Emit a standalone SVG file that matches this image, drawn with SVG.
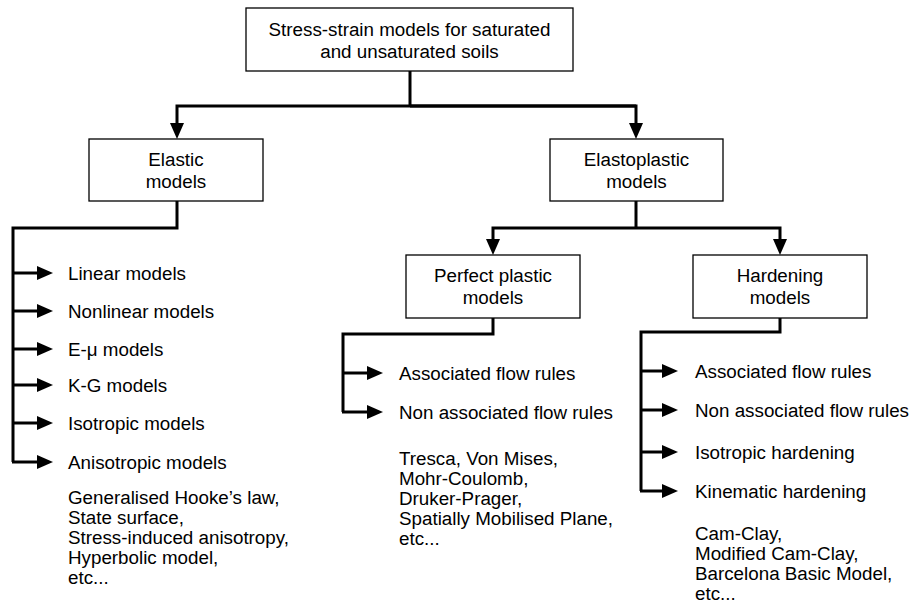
<svg xmlns="http://www.w3.org/2000/svg" width="914" height="610" viewBox="0 0 914 610">
<style>
.box{fill:#fff;stroke:#000;stroke-width:1.3}
.t{font-family:"Liberation Sans",Arial,sans-serif;font-size:18.8px;fill:#000}
.c{text-anchor:middle}
.ln{fill:none;stroke:#000;stroke-width:3}
.ar{fill:none;stroke:#000;stroke-width:3;marker-end:url(#ah)}
</style>
<defs>
<marker id="ah" markerUnits="userSpaceOnUse" markerWidth="16" markerHeight="14" refX="6" refY="7" orient="auto" overflow="visible">
<path d="M0,0 L16,7 L0,14 z" fill="#000"/>
</marker>
</defs>
<rect width="914" height="610" fill="#fff"/>
<g id="connectors">
<path class="ln" d="M410,71 V106"/>
<path class="ar" d="M636,106 H177 V129"/>
<path class="ar" d="M410,106 H636 V129"/>
<path class="ln" d="M177,201 V228 H13 V462"/>
<path class="ar" d="M13,273 H43"/>
<path class="ar" d="M13,311 H43"/>
<path class="ar" d="M13,349 H43"/>
<path class="ar" d="M13,385 H43"/>
<path class="ar" d="M13,423 H43"/>
<path class="ar" d="M12,462 H43"/>
<path class="ln" d="M636,201 V228"/>
<path class="ar" d="M636,228 H493 V245"/>
<path class="ar" d="M636,228 H780 V245"/>
<path class="ln" d="M493,318 V334 H343 V412"/>
<path class="ar" d="M343,373 H373"/>
<path class="ar" d="M342,412 H373"/>
<path class="ln" d="M780,318 V332 H641 V491"/>
<path class="ar" d="M641,371 H668"/>
<path class="ar" d="M641,410 H668"/>
<path class="ar" d="M641,452 H668"/>
<path class="ar" d="M640,491 H668"/>
</g>
<g id="root">
<rect class="box" x="246" y="8" width="327" height="63"/>
<text class="t c" x="409.5" y="35.5">Stress-strain models for saturated</text>
<text class="t c" x="409.5" y="57.5">and unsaturated soils</text>
</g>
<g id="elastic">
<rect class="box" x="89" y="139" width="174" height="62"/>
<text class="t c" x="176" y="166">Elastic</text>
<text class="t c" x="176" y="188">models</text>
</g>
<g id="elastoplastic">
<rect class="box" x="550" y="139" width="173" height="62"/>
<text class="t c" x="636.5" y="166">Elastoplastic</text>
<text class="t c" x="636.5" y="188">models</text>
</g>
<g id="perfect-plastic">
<rect class="box" x="406" y="255" width="174" height="63"/>
<text class="t c" x="493" y="282">Perfect plastic</text>
<text class="t c" x="493" y="304">models</text>
</g>
<g id="hardening">
<rect class="box" x="693" y="255" width="174" height="63"/>
<text class="t c" x="780" y="282">Hardening</text>
<text class="t c" x="780" y="304">models</text>
</g>
<g id="elastic-items">
<text class="t" x="68" y="279.5">Linear models</text>
<text class="t" x="68" y="317.5">Nonlinear models</text>
<text class="t" x="68" y="355.5">E-μ models</text>
<text class="t" x="68" y="391.5">K-G models</text>
<text class="t" x="68" y="429.5">Isotropic models</text>
<text class="t" x="68" y="468.5">Anisotropic models</text>
<text class="t" x="68" y="504">Generalised Hooke’s law,</text>
<text class="t" x="68" y="524">State surface,</text>
<text class="t" x="68" y="544">Stress-induced anisotropy,</text>
<text class="t" x="68" y="564">Hyperbolic model,</text>
<text class="t" x="68" y="584">etc...</text>
</g>
<g id="perfect-items">
<text class="t" x="399" y="379.5">Associated flow rules</text>
<text class="t" x="399" y="418.5">Non associated flow rules</text>
<text class="t" x="399" y="465">Tresca, Von Mises,</text>
<text class="t" x="399" y="485">Mohr-Coulomb,</text>
<text class="t" x="399" y="505">Druker-Prager,</text>
<text class="t" x="399" y="525">Spatially Mobilised Plane,</text>
<text class="t" x="399" y="545">etc...</text>
</g>
<g id="hardening-items">
<text class="t" x="695" y="377.5">Associated flow rules</text>
<text class="t" x="695" y="416.5">Non associated flow rules</text>
<text class="t" x="695" y="458.5">Isotropic hardening</text>
<text class="t" x="695" y="497.5">Kinematic hardening</text>
<text class="t" x="695" y="540">Cam-Clay,</text>
<text class="t" x="695" y="560">Modified Cam-Clay,</text>
<text class="t" x="695" y="580">Barcelona Basic Model,</text>
<text class="t" x="695" y="600">etc...</text>
</g>
</svg>
